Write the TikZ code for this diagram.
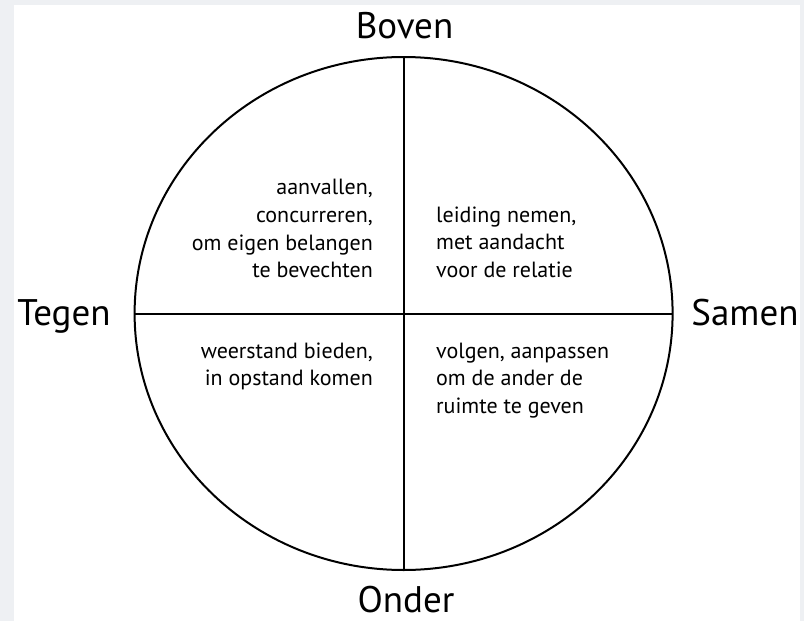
\documentclass[tikz,border=0pt]{standalone}
\usepackage{fontspec}
\setmainfont{PT Sans}
\usetikzlibrary{shapes.geometric}
\definecolor{edgegrey}{HTML}{EEF0F3}
\begin{document}
\begin{tikzpicture}[
        x=1pt, y=-1pt,
        axis/.style={font=\fontsize{37}{42}\selectfont, inner sep=0pt},
        quad/.style={font=\fontsize{22}{27.7}\selectfont, inner sep=0pt},
        divider/.style={line width=2pt}
    ]
    % Background
    \fill[edgegrey] (0,0) rectangle (804,621);
    \fill[white] (14,5) rectangle (800,621);
    \useasboundingbox (0,0) rectangle (804,621);
    % Circle and cross
    \node[ellipse, draw, line width=2pt, inner sep=0pt, outer sep=0pt,
        minimum width=538pt, minimum height=513pt] (circ) at (403.6,313.5) {};
    \draw[divider] (circ.north) -- (circ.south);
    \draw[divider] (circ.west) -- (circ.east);
    % Axis labels
    \node[axis, anchor=base] (boven) at (404.5,38) {Boven};
    \node[axis, anchor=base] (onder) at (406,612) {Onder};
    \node[axis, anchor=base] (tegen) at (64,325) {Tegen};
    \node[axis, anchor=base] (samen) at (745,325) {Samen};
    % Quadrants
    \node[quad, align=right, anchor=north east] (tl) at (373,179) {aanvallen,\\concurreren,\\om eigen belangen\\te bevechten};
    \node[quad, align=left, anchor=north west] (tr) at (436,206.5) {leiding nemen,\\met aandacht\\voor de relatie};
    \node[quad, align=right, anchor=north east] (bl) at (373,342.5) {weerstand bieden,\\in opstand komen};
    \node[quad, align=left, anchor=north west] (br) at (436,342.5) {volgen, aanpassen\\om de ander de\\ruimte te geven};
\end{tikzpicture}
\end{document}
